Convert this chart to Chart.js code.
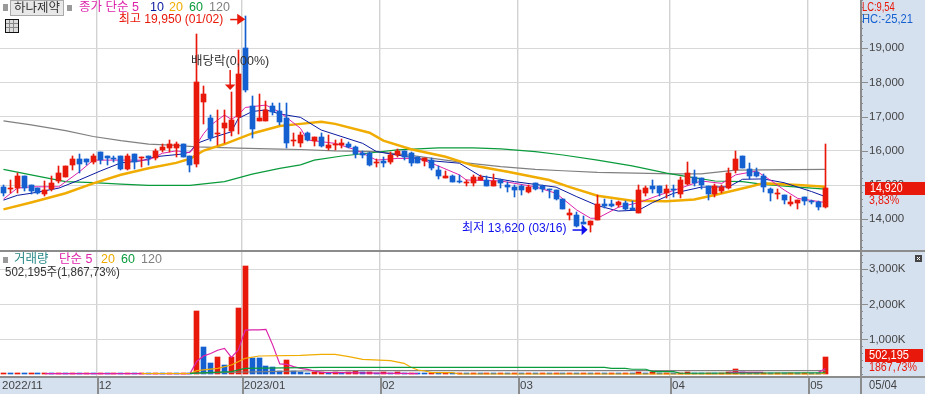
<!DOCTYPE html>
<html><head><meta charset="utf-8">
<style>html,body{margin:0;padding:0;background:#fff}canvas{display:block}</style>
<script src="https://cdn.jsdelivr.net/npm/chart.js@4"></script>
</head><body><canvas id="c" width="925" height="394"></canvas>
<script>
const open_=[14950,14900,14910,15270,15000,14920,14740,14880,15130,15250,15590,15760,15760,15680,15970,15850,15790,15850,15470,15910,15780,15850,15790,16030,16080,16080,16200,15850,15620,17430,16960,16490,16670,16580,16990,19010,17310,16870,16870,17310,17170,16960,16300,16220,16520,16290,16410,16090,16160,16160,16200,16120,15930,15930,15640,15700,15680,15870,15990,15930,15810,15700,15730,15440,15220,15270,15120,15050,15070,15140,15140,14970,15150,15000,14940,14960,14800,15050,14980,14880,14860,14590,14130,14130,13920,13830,13980,14450,14450,14410,14470,14340,14190,14760,14970,14970,14780,14890,14740,15030,15230,15200,14970,14740,14820,14920,15440,15850,15460,15380,15270,14890,14730,14710,14450,14490,14650,14540,14510,14350];
const high_=[15000,15150,15350,15270,15000,14920,15120,15270,15560,15560,15850,15910,15760,15910,15970,15850,15850,15850,15910,15910,15820,15850,16060,16200,16320,16260,16200,15850,19420,17900,17050,17200,17200,17720,18950,19950,17610,17660,17460,17400,17400,17400,16520,16550,16550,16410,16520,16460,16320,16350,16260,16140,16000,15980,15750,15830,15980,16050,16010,15980,15810,15790,15780,15560,15410,15300,15300,15150,15300,15300,15270,15320,15170,15100,15000,15000,15000,15060,15000,14890,14860,14590,14300,14220,14100,13950,14710,14590,14560,14540,14530,14540,15000,14980,15150,14970,15000,15000,15230,15680,15440,15210,14970,15030,15000,15500,16000,15850,15640,15500,15320,14920,14890,14710,14680,14560,14650,14560,14540,16200];
const low_=[14690,14780,14780,14840,14740,14740,14690,14830,15050,15250,15440,15350,15590,15620,15620,15590,15680,15440,15440,15470,15530,15590,15730,15970,15970,15830,15820,15380,15540,16790,16290,16170,16230,16440,16490,17720,16380,16870,16870,17050,16760,16090,16140,16110,16290,16140,16110,16030,16030,16090,16090,15800,15800,15560,15540,15530,15620,15810,15730,15560,15650,15570,15440,15180,15220,15090,15050,14970,14970,15140,14970,14970,14920,14800,14660,14710,14780,14860,14800,14620,14560,14300,13980,13780,13860,13620,13980,14320,14350,14370,14270,14270,14190,14680,14780,14680,14610,14660,14630,15000,14970,14890,14560,14660,14760,14880,15350,15500,15170,15250,14800,14540,14590,14450,14390,14300,14420,14450,14270,14330];
const close_=[14780,14920,15270,14910,14830,14770,14860,15070,15350,15560,15760,15620,15680,15850,15730,15790,15750,15470,15850,15680,15810,15790,16000,16120,16200,16200,15820,15590,18010,17660,16370,16520,16820,16900,18250,17780,16640,16960,17200,17140,16850,16230,16330,16460,16320,16410,16140,16170,16200,16220,16120,15900,15890,15590,15680,15640,15870,16000,15830,15650,15650,15780,15490,15270,15270,15090,15080,15090,15230,15230,14970,15130,15070,14940,14860,14860,14950,14890,14890,14860,14580,14310,14180,13800,13860,13950,14450,14390,14390,14510,14300,14270,14860,14910,14890,14780,14880,14860,15150,15350,15050,15000,14740,14970,14940,15350,15760,15500,15270,15270,14940,14770,14770,14560,14510,14560,14540,14510,14360,14920];
const volumeK=[40,25,35,22,30,20,28,24,30,22,28,20,26,24,30,22,28,20,26,22,28,24,30,22,30,24,30,22,1810,784,328,499,271,499,1896,3094,470,465,242,205,108,413,108,71,43,71,72,55,60,50,60,100,60,70,55,70,50,60,40,50,45,30,40,28,36,26,34,24,32,26,34,24,30,26,32,24,30,22,32,24,30,22,30,24,32,26,30,24,30,26,32,28,65,30,65,28,30,24,30,65,32,26,30,24,30,60,157,60,30,26,30,24,30,26,30,24,30,26,25.5,502.195];
// moving averages: [candle number, value]
const ma5=[[0,14590],[2,14910],[4,14950],[8,14950],[11,15390],[13,15730],[17,15730],[21,15730],[23,15930],[25,16000],[27,15950],[28,16200],[29,16510],[30,16750],[32,17050],[33,16920],[34,17050],[35,17270],[38,17340],[40,17130],[43,16660],[44,16320],[48,16220],[51,16030],[54,15730],[57,15780],[60,15780],[62,15640],[66,15300],[67,15150],[72,15120],[77,14950],[80,14760],[83,14270],[85,14030],[86,14030],[89,14350],[92,14490],[95,14710],[98,14910],[101,15120],[104,15050],[106,15300],[109,15410],[111,15150],[113,14860],[115,14610],[119,14490]];
const ma10=[[0,14560],[2,14700],[4,14760],[8,14910],[11,15150],[14,15410],[17,15650],[20,15710],[22,15830],[26,15910],[27,15970],[28,16220],[30,16370],[33,16560],[34,16950],[36,17150],[38,17200],[40,17080],[43,16980],[46,16610],[52,16220],[54,15980],[59,15810],[62,15710],[66,15640],[69,15270],[74,15100],[80,14940],[83,14660],[86,14400],[89,14240],[92,14270],[94,14490],[97,14760],[101,14940],[105,14950],[107,15170],[110,15180],[113,15070],[117,14810],[119,14660]];
const ma20=[[0,14290],[4,14490],[9,14760],[13,15050],[17,15300],[21,15490],[25,15650],[27,15770],[29,16010],[32,16200],[36,16510],[40,16730],[43,16790],[46,16850],[48,16790],[53,16530],[55,16300],[59,16050],[64,15830],[68,15570],[73,15390],[79,15150],[82,14940],[86,14690],[91,14540],[96,14530],[100,14580],[103,14710],[108,14950],[110,15050],[115,15000],[119,14950]];
const ma60=[[0,15460],[4,15300],[9,15100],[13,15070],[17,15030],[21,14990],[27,14990],[32,15100],[36,15320],[40,15490],[43,15590],[45,15730],[49,15850],[54,15960],[57,16030],[63,16090],[68,16090],[72,16060],[77,15980],[81,15880],[86,15730],[91,15560],[96,15350],[99,15250],[103,15120],[107,15100],[110,15020],[115,14940],[119,14880]];
const ma120=[[0,16880],[4,16760],[9,16590],[13,16420],[17,16300],[21,16200],[25,16160],[28,16120],[34,16080],[40,16050],[43,16040],[48,16000],[54,15980],[59,15870],[64,15730],[67,15650],[72,15540],[77,15460],[81,15420],[86,15370],[97,15330],[101,15330],[106,15440],[119,15460]];
const volMa5=[[6,25],[27,25],[28,380],[29,530],[30,600],[31,690],[32,746],[33,490],[34,698],[35,1268],[36,1270],[37,1270],[38,1287],[39,830],[40,300],[41,290],[42,223],[43,176],[44,147],[45,100],[46,60],[60,25],[61,null],[105,62],[110,62],[111,null],[118,60],[119,170]];
const volMa20=[[20,28],[27,28],[28,108],[31,176],[33,270],[35,462],[37,527],[43,547],[46,576],[48,576],[50,507],[52,433],[56,394],[58,319],[59,205],[60,128],[61,100],[62,51],[65,51],[66,14],[118,14],[119,40]];
const volMa60=[[27,34],[33,80],[35,176],[46,205],[87,205],[88,177],[90,177],[91,150],[93,150],[94,80],[97,80],[98,35],[119,50]];
const volMa120=[[27,30],[35,71],[46,108],[119,108]];
const monthStart=[0,14,35,55,75,97,117];
const monthLabels=['2022/11','12','2023/01','02','03','04','05'];
const priceTicks=[14000,15000,16000,17000,18000,19000];
const volumeTicks=[1000,2000,3000];

const RED='#e8180a',BLUE='#1560d0',MAG='#dd22aa',NAVY='#0a1aa0',ORG='#f0ac00',GRN='#0a9b3c',GRY='#808080';
const FONT='"Liberation Sans","Noto Sans CJK KR"';
const idx=open_.map((_,i)=>i);
const candleColor=idx.map(i=>close_[i]>=open_[i]?RED:BLUE);
const volColor=idx.map(i=>i===0||volumeK[i]>=volumeK[i-1]?RED:BLUE);
const pts=a=>a.map(p=>({x:p[0],y:p[1]}));
const line=(a,color,w,order,axis)=>({type:'line',data:pts(a),borderColor:color,borderWidth:w,pointRadius:0,tension:0,order,yAxisID:axis,spanGaps:false});
const noPad=s=>{s.paddingLeft=s.paddingRight=s.paddingTop=s.paddingBottom=0;};

// keep bars on whole pixels, the way the original terminal draws its candles
const barDraw=Chart.BarElement.prototype.draw;
Chart.BarElement.prototype.draw=function(ctx){
 const sx=this.x,sy=this.y,sb=this.base;
 this.x=this.width%2?Math.floor(sx)+.5:Math.round(sx);
 this.y=Math.round(sy);this.base=Math.round(sb);
 if(this.base===this.y)this.base=this.y+1;
 barDraw.call(this,ctx);
 this.x=sx;this.y=sy;this.base=sb;
};

const chrome={id:'chrome',
 beforeDraw(c){const g=c.ctx,a=c.chartArea;g.save();g.fillStyle='#d6e1f0';
  g.fillRect(a.right,0,925-a.right,394);g.fillRect(0,a.bottom,925,394-a.bottom);g.restore();},
 afterDraw(c){
  const g=c.ctx,a=c.chartArea,x=c.scales.x,y=c.scales.y,v=c.scales.vol;
  const rect=(col,l,t,w,h)=>{g.fillStyle=col;g.fillRect(l,t,w,h);};
  const tx=(s,l,m,col,size,al,sx)=>{g.save();g.translate(l,m);g.scale(sx||1,1);g.font=(size||13)+'px '+FONT;g.fillStyle=col;g.textAlign=al||'left';g.textBaseline='middle';g.fillText(s,0,0);g.restore();};
  g.save();
  rect('#8c8c8c',0,y.bottom,925,2);
  rect('#8c8c8c',0,a.bottom,925,2);
  rect('#8c8c8c',a.right,0,2,394);
  monthStart.forEach((m,i)=>{if(i)rect('#8c8c8c',Math.round(x.getPixelForValue(m-.5)),a.bottom,2,18);});
  for(let p=13200;p<=20400;p+=200){const py=Math.round(y.getPixelForValue(p));rect('#8c8c8c',a.right,py,p%1000?3:8,1);}
  for(let q=0;q<=3400;q+=200){const py=Math.round(v.getPixelForValue(q));rect('#8c8c8c',a.right,py,q%1000||!q?3:8,1);}
  // legends
  rect('#9a9a9a',3,4,5,7);
  g.fillStyle='#e8e8e8';g.fillRect(11,1,52,14);g.strokeStyle='#aaa';g.strokeRect(10.5,.5,53,15);
  tx('하나제약',14,8.5,'#333',12.5);
  rect('#9a9a9a',67,5,5,6);
  tx('종가 단순 5',79,8,MAG,12.5);tx('10',150,8,NAVY,12.5);tx('20',169,8,ORG,12.5);tx('60',189,8,GRN,12.5);tx('120',209,8,GRY,12.5);
  g.strokeStyle='#111';g.lineWidth=1;g.fillStyle='#ddd';g.fillRect(5.5,19.5,13,13);g.strokeRect(5.5,19.5,13,13);
  g.strokeStyle='#888';[9.5,13.5].forEach(l=>{g.beginPath();g.moveTo(l,20);g.lineTo(l,32);g.stroke();});
  [23.5,27.5].forEach(l=>{g.beginPath();g.moveTo(6,l);g.lineTo(18,l);g.stroke();});
  rect('#9a9a9a',3,257,5,6);
  tx('거래량',14,260,'#2a8a8a',12.5);tx('단순 5',59,260,MAG,12.5);tx('20',101,260,ORG,12.5);tx('60',121,260,GRN,12.5);tx('120',141,260,GRY,12.5);
  tx('502,195주(1,867,73%)',5,273,'#333',12.5,'left',.92);
  // annotations
  const hx=x.getPixelForValue(35),hy=y.getPixelForValue(19950);
  tx('최고 19,950 (01/02)',hx-22,hy+3.5,RED,12.5,'right',.97);
  g.fillStyle=RED;rect(RED,hx-15,hy+3,8,1.5);g.beginPath();g.moveTo(hx-8,hy-2);g.lineTo(hx,hy+3.5);g.lineTo(hx-8,hy+9);g.fill();
  const dx=x.getPixelForValue(33)-1.5;
  rect(RED,dx-.5,70,1.5,15);g.beginPath();g.moveTo(dx-5,84.5);g.lineTo(dx+5.5,84.5);g.lineTo(dx+.25,90);g.fill();
  tx('배당락(0,00%)',191,62,'#333',12.5);
  const lx=x.getPixelForValue(85),ly=y.getPixelForValue(13620);
  tx('최저 13,620 (03/16)',lx-24,ly-4,'#1010ee',12.5,'right',.97);
  g.fillStyle='#1010ee';rect('#1010ee',lx-18,ly-3,10,1.5);g.beginPath();g.moveTo(lx-9,ly-8);g.lineTo(lx-3,ly-2.5);g.lineTo(lx-9,ly+3);g.fill();
  // right side
  tx('LC:9,54',862,7,RED,13,'left',.72);tx('HC:-25,21',862,19,'#1560d0',13,'left',.86);
  const ly1=Math.round(y.getPixelForValue(close_[119]));
  rect(RED,865,ly1-6,60,13);
  tx('14,920',870,ly1+.5,'#fff',13,'left',.82);tx('3,83%',869,ly1+12,RED,13,'left',.82);
  const vy=Math.round(v.getPixelForValue(volumeK[119]));
  rect(RED,865,vy-8,58,13);
  tx('502,195',869,vy-1.5,'#fff',13,'left',.85);tx('1867,73%',869,vy+10.5,RED,13,'left',.82);
  rect('#444',915,255,7,7);g.strokeStyle='#fff';g.beginPath();g.moveTo(917,257);g.lineTo(920,260);g.moveTo(920,257);g.lineTo(917,260);g.stroke();
  tx('05/04',869,385.5,'#444',13,'left',.86);
  g.restore();
 }};

new Chart(document.getElementById('c'),{
 plugins:[chrome],
 data:{datasets:[
  {type:'bar',data:idx.map(i=>({x:i,y:[open_[i],close_[i]]})),backgroundColor:candleColor,barThickness:5,grouped:false,minBarLength:1,order:0,yAxisID:'y'},
  {type:'bar',data:idx.map(i=>({x:i,y:[low_[i],high_[i]]})),backgroundColor:candleColor,barThickness:1,grouped:false,order:1,yAxisID:'y'},
  line(ma5,MAG,1,2,'y'),line(ma10,NAVY,1,3,'y'),line(ma20,ORG,2.5,4,'y'),line(ma60,GRN,1.2,5,'y'),line(ma120,GRY,1.2,6,'y'),
  {type:'bar',data:idx.map(i=>({x:i,y:volumeK[i]})),backgroundColor:volColor,barThickness:5,grouped:false,minBarLength:1,order:12,yAxisID:'vol'},
  line(volMa5,MAG,1.2,10,'vol'),line(volMa20,ORG,1.2,9,'vol'),line(volMa60,GRN,1.2,8,'vol'),line(volMa120,GRY,1.2,11,'vol')
 ]},
 options:{responsive:false,animation:false,events:[],layout:{padding:0},
  plugins:{legend:{display:false},tooltip:{enabled:false}},
  scales:{
   x:{type:'linear',position:'bottom',min:-.5,max:124,offset:false,
    afterBuildTicks:s=>{s.ticks=monthStart.map(m=>({value:m-.5}));},
    afterFit:s=>{s.height=18;noPad(s);},
    grid:{offset:false,color:c=>c.index===0?'transparent':'#d2d2d2',lineWidth:1.4,drawTicks:false},
    border:{display:false},
    ticks:{autoSkip:false,maxRotation:0,minRotation:0,align:'start',labelOffset:2,padding:3,color:'#444',font:{family:FONT,size:11.5},
     callback:v=>monthLabels[monthStart.indexOf(v+.5)]}},
   y:{type:'linear',position:'right',stack:'panes',stackWeight:250,min:13102,max:20412,
    afterBuildTicks:s=>{s.ticks=priceTicks.map(v=>({value:v}));},
    afterFit:s=>{s.width=65;noPad(s);},
    grid:{color:'#d8d8d8',drawTicks:false},border:{display:false},
    ticks:{padding:9,color:'#444',font:{family:FONT,size:11.5},callback:v=>v.toLocaleString('en-US')}},
   vol:{type:'linear',position:'right',stack:'panes',stackWeight:126,min:-43,max:3550,
    afterBuildTicks:s=>{s.ticks=volumeTicks.map(v=>({value:v}));},
    afterFit:s=>{s.width=65;noPad(s);},
    grid:{color:'#d8d8d8',drawTicks:false},border:{display:false},
    ticks:{padding:9,color:'#444',font:{family:FONT,size:11.5},callback:v=>v.toLocaleString('en-US')+'K'}}
  }}
});
</script></body></html>
